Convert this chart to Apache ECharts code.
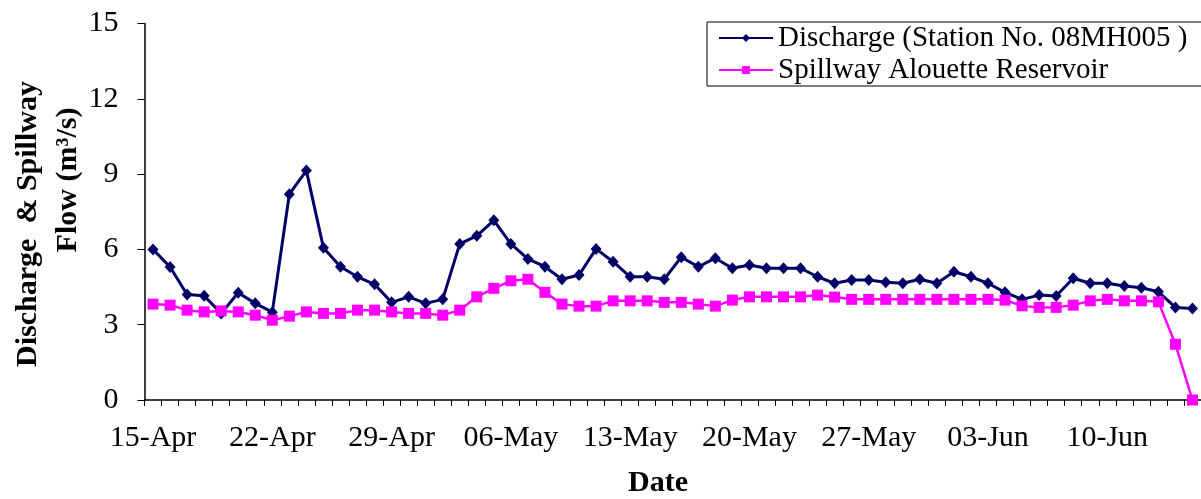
<!DOCTYPE html>
<html>
<head>
<meta charset="utf-8">
<script src="https://cdn.jsdelivr.net/npm/echarts@6/dist/echarts.min.js"></script>
<style>
html,body{margin:0;padding:0;background:#fff;}
#chart{width:1201px;height:499px;}
</style>
</head>
<body>
<div id="chart"></div>
<script>
const dates = [
 '15-Apr','16-Apr','17-Apr','18-Apr','19-Apr','20-Apr','21-Apr','22-Apr','23-Apr','24-Apr','25-Apr','26-Apr','27-Apr','28-Apr','29-Apr','30-Apr',
 '01-May','02-May','03-May','04-May','05-May','06-May','07-May','08-May','09-May','10-May','11-May','12-May','13-May','14-May','15-May','16-May',
 '17-May','18-May','19-May','20-May','21-May','22-May','23-May','24-May','25-May','26-May','27-May','28-May','29-May','30-May','31-May',
 '01-Jun','02-Jun','03-Jun','04-Jun','05-Jun','06-Jun','07-Jun','08-Jun','09-Jun','10-Jun','11-Jun','12-Jun','13-Jun','14-Jun','15-Jun'
];
const discharge = [
 6.0,5.3,4.2,4.15,3.45,4.27,3.85,3.5,8.2,9.14,6.07,5.31,4.91,4.61,3.89,4.11,
 3.85,4.01,6.22,6.54,7.16,6.22,5.62,5.31,4.81,4.98,6.02,5.51,4.91,4.91,4.81,5.69,
 5.31,5.65,5.25,5.38,5.25,5.25,5.25,4.91,4.65,4.78,4.78,4.69,4.65,4.81,4.65,
 5.11,4.91,4.65,4.29,4.01,4.18,4.14,4.85,4.65,4.65,4.54,4.47,4.31,3.69,3.65
];
const spillway = [
 3.82,3.78,3.58,3.51,3.55,3.51,3.38,3.18,3.34,3.51,3.45,3.45,3.58,3.58,3.51,3.45,
 3.45,3.38,3.58,4.11,4.45,4.75,4.81,4.29,3.82,3.74,3.74,3.95,3.95,3.95,3.89,3.89,
 3.82,3.74,3.98,4.11,4.11,4.11,4.11,4.18,4.1,4.01,4.01,4.01,4.01,4.01,4.01,
 4.01,4.01,4.01,3.98,3.75,3.69,3.69,3.78,3.95,4.01,3.95,3.95,3.91,2.22,0.0
];
const seriesNames = ['Discharge (Station No. 08MH005 )', 'Spillway Alouette Reservoir'];
const yTitle1 = 'Discharge  & Spillway';
const yTitle2 = 'Flow (m\u00B3/s)';
const xTitle = 'Date';

const FONT = '"Liberation Serif", "Times New Roman", serif';
const chart = echarts.init(document.getElementById('chart'), null, {renderer:'canvas'});
chart.setOption({
  animation: false,
  backgroundColor: '#fff',
  grid: {left: 144.5, top: 23.5, width: 1060, height: 376.5, containLabel: false},
  legend: {
    orient: 'vertical',
    left: 707, top: 22,
    padding: [0, 15, 0, 11],
    itemGap: 0,
    itemWidth: 54, itemHeight: 10,
    borderColor: '#000', borderWidth: 1,
    backgroundColor: '#fff',
    textStyle: {fontFamily: FONT, fontSize: 29, color: '#000', lineHeight: 32},
    data: seriesNames
  },
  xAxis: {
    type: 'category',
    data: dates,
    boundaryGap: true,
    axisLine: {show: true, lineStyle: {color: '#000', width: 1.5}},
    axisTick: {show: true, interval: 0, length: 6, lineStyle: {color: '#000', width: 1}},
    axisLabel: {interval: 6, fontFamily: FONT, fontSize: 30, color: '#000', margin: 23},
    splitLine: {show: false}
  },
  yAxis: {
    type: 'value',
    min: 0, max: 15, interval: 3,
    axisLine: {show: true, lineStyle: {color: '#000', width: 1.5}},
    axisTick: {show: true, length: 7, lineStyle: {color: '#000', width: 1}},
    axisLabel: {fontFamily: FONT, fontSize: 30, color: '#000', margin: 26},
    splitLine: {show: false}
  },
  graphic: [
    {type: 'text', x: 28.5, y: 224, rotation: Math.PI/2,
     style: {text: yTitle1, font: 'bold 30px ' + FONT, fill: '#000', align: 'center', verticalAlign: 'middle', textAlign: 'center', textVerticalAlign: 'middle'}},
    {type: 'text', x: 68, y: 180, rotation: Math.PI/2,
     style: {text: yTitle2, font: 'bold 30px ' + FONT, fill: '#000', align: 'center', verticalAlign: 'middle', textAlign: 'center', textVerticalAlign: 'middle'}},
    {type: 'text', x: 658, y: 483,
     style: {text: xTitle, font: 'bold 30px ' + FONT, fill: '#000', align: 'center', verticalAlign: 'middle', textAlign: 'center', textVerticalAlign: 'middle'}}
  ],
  series: [
    {
      name: seriesNames[0], type: 'line', data: discharge,
      symbol: 'diamond', symbolSize: [11, 12], showAllSymbol: true,
      itemStyle: {color: '#000066'},
      lineStyle: {color: '#000066', width: 3}
    },
    {
      name: seriesNames[1], type: 'line', data: spillway,
      symbol: 'rect', symbolSize: 11, showAllSymbol: true,
      itemStyle: {color: '#ff00ff'},
      lineStyle: {color: '#ff00ff', width: 2.5}
    }
  ]
});
</script>
</body>
</html>
